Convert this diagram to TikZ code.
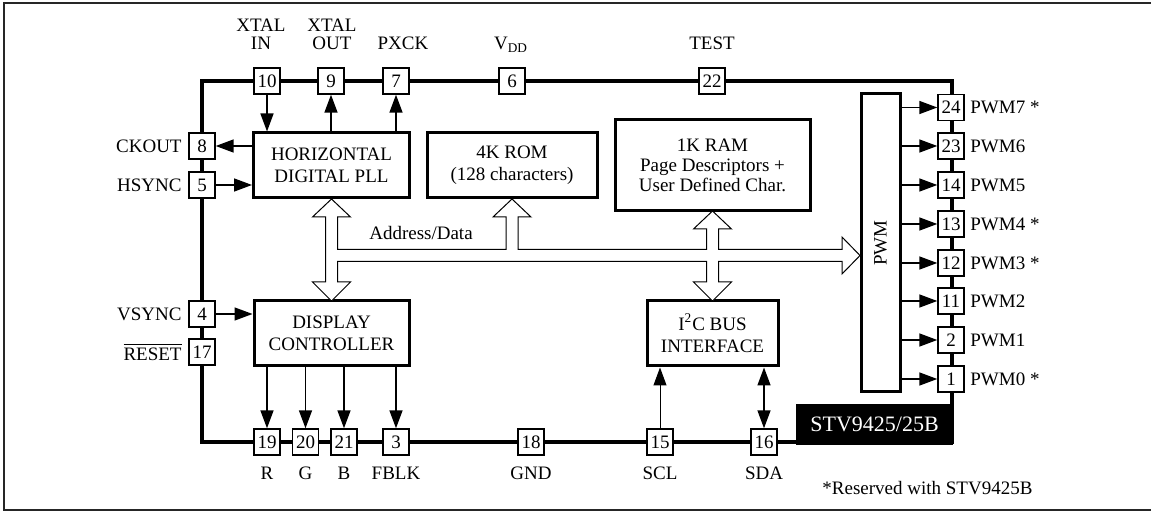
\documentclass[tikz,border=0pt]{standalone}
\usepackage{fontspec}
\setmainfont{Liberation Serif}
\usetikzlibrary{arrows.meta}
\tikzset{
	pinbox/.style={draw, fill=white, line width=0.7pt, minimum size=13pt, inner sep=0pt},
	block/.style={draw, line width=1.5pt, align=center, inner sep=0pt},
	sig/.style={line width=0.75pt, -{Triangle[length=9pt,width=6.5pt]}},
	lbl/.style={inner sep=0pt, align=center}
}

\begin{document}
\begin{tikzpicture}[x=0.5pt, y=-0.5pt, font=\fontsize{9.5}{11}\selectfont]
	\useasboundingbox (0,0) rectangle (1151,512);
	%outer frame
	\draw[line width=1.2pt, black!85] (4,3) rectangle (1160,510);
	%chip outline
	\draw[line width=2pt] (202,81) rectangle (952,442);

	%function blocks
	\node[block, minimum width=78pt, minimum height=32.5pt] (hpll) at (331.5,165.5) {HORIZONTAL\\DIGITAL PLL};
	\node[block, minimum width=85pt, minimum height=32.5pt] (rom) at (512,165.5) {4K ROM\\(128 characters)};
	\node[block, minimum width=97.5pt, minimum height=45.5pt, font=\fontsize{9.5}{10}\selectfont] (ram) at (712.5,165.5) {1K RAM\\Page Descriptors +\\User Defined Char.};
	\node[block, minimum width=77.5pt, minimum height=32.5pt] (dc) at (331.5,333.5) {DISPLAY\\CONTROLLER};
	\node[block, minimum width=65.5pt, minimum height=32.5pt] (i2c) at (712.5,333.5) {I\textsuperscript{2}C BUS\\INTERFACE};
	\node[block, minimum width=19.5pt, minimum height=149pt] (pwm) at (880.5,243) {\rotatebox{90}{PWM}};

	%address/data bus
	\draw[line width=0.5pt, fill=white] (331.5,199) -- (350.5,217) -- (337.5,217) -- (337.5,249.5)
		-- (506,249.5) -- (506,217) -- (493,217) -- (512,199) -- (531,217) -- (518,217) -- (518,249.5)
		-- (706.5,249.5) -- (706.5,229) -- (693.5,229) -- (712.5,211) -- (731.5,229) -- (718.5,229) -- (718.5,249.5)
		-- (842,249.5) -- (842,237) -- (860,255.5) -- (842,274) -- (842,261.5)
		-- (718.5,261.5) -- (718.5,282) -- (731.5,282) -- (712.5,301) -- (693.5,282) -- (706.5,282) -- (706.5,261.5)
		-- (337.5,261.5) -- (337.5,282) -- (350.5,282) -- (331.5,301) -- (312.5,282) -- (325.5,282)
		-- (325.5,217) -- (312.5,217) -- cycle;
	\node[lbl] (addr) at (421,233) {Address/Data};

	%top pins
	\foreach \n/\x in {10/267, 9/331, 7/396, 6/512, 22/712}
		\node[pinbox] (p\n) at (\x,81) {\n};
	\node[lbl, font=\fontsize{9.5}{9}\selectfont] (lxin) at (261,34) {XTAL\\IN};
	\node[lbl, font=\fontsize{9.5}{9}\selectfont] (lxout) at (332,34) {XTAL\\OUT};
	\node[lbl] (lpxck) at (403,43.5) {PXCK};
	\node[lbl, anchor=base] (lvdd) at (511,50) {V\textsubscript{DD}};
	\node[lbl] (ltest) at (712,43.5) {TEST};

	%left pins
	\foreach \n/\y/\t in {8/146/CKOUT, 5/185/HSYNC, 4/314/VSYNC, 17/352/$\overline{\mbox{RESET}}$}{
		\node[pinbox] (p\n) at (202,\y) {\n};
		\node[lbl, anchor=east] (l\n) at (182,\y) {\t};
	}

	%bottom pins
	\foreach \n/\x/\t in {19/267/R, 20/305.5/G, 21/344/B, 3/396/FBLK, 18/531/GND, 15/660/SCL, 16/764/SDA}{
		\node[pinbox] (p\n) at (\x,442) {\n};
		\node[lbl] (l\n) at (\x,473) {\t};
	}

	%device name
	\node[fill=black, minimum width=78.5pt, minimum height=20.5pt, inner sep=0pt, text=white, font=\fontsize{11}{12}\selectfont] (dev) at (874.5,424.5) {STV9425/25B};

	%pwm outputs
	\foreach \n/\y/\t in {24/107.5/PWM7 *, 23/146/PWM6, 14/185/PWM5, 13/224/PWM4 *, 12/263/PWM3 *, 11/301/PWM2, 2/340/PWM1, 1/379/PWM0 *}{
		\node[pinbox] (p\n) at (951,\y) {\n};
		\draw[sig] (pwm.east |- p\n) -- (p\n);
		\node[lbl, anchor=west] (l\n) at (970,\y) {\t};
	}

	%signals
	\draw[sig] (p10) -- (p10 |- hpll.north);
	\draw[sig] (p9 |- hpll.north) -- (p9);
	\draw[sig] (p7 |- hpll.north) -- (p7);
	\draw[sig] (hpll.west |- p8) -- (p8);
	\draw[sig] (p5) -- (hpll.west |- p5);
	\draw[sig] (p4) -- (dc.west |- p4);
	\foreach \n in {19, 20, 21, 3}
		\draw[sig] (p\n |- dc.south) -- (p\n);
	\draw[sig, line width=0.5pt] (p15) -- (p15 |- i2c.south);
	\draw[sig, {Triangle[length=9pt,width=6.5pt]}-{Triangle[length=9pt,width=6.5pt]}] (p16) -- (p16 |- i2c.south);

	%footnote
	\node[lbl, anchor=west] (note) at (822,488.5) {*Reserved with STV9425B};
\end{tikzpicture}
\end{document}
